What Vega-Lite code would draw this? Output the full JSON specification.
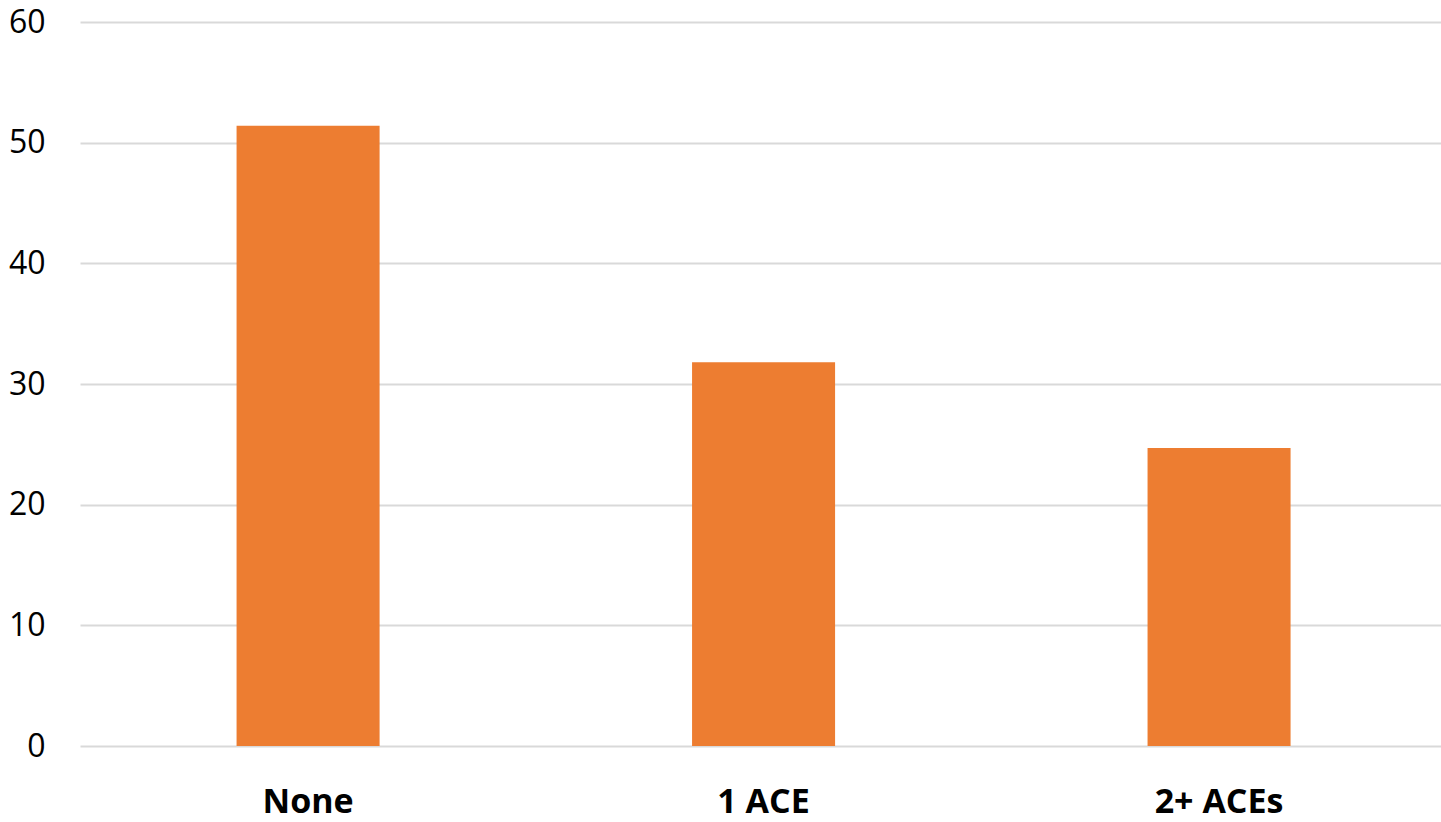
{
  "$schema": "https://vega.github.io/schema/vega-lite/v6.json",
  "autosize": {"type": "none"},
  "padding": {"left": 80, "top": 22, "right": 0, "bottom": 76},
  "width": 1361,
  "height": 724,
  "background": "white",
  "data": {"values": [
    {"group": "None", "value": 51.4},
    {"group": "1 ACE", "value": 31.8},
    {"group": "2+ ACEs", "value": 24.7}
  ]},
  "mark": {"type": "bar", "color": "#ED7D31"},
  "encoding": {
    "x": {
      "field": "group", "type": "nominal", "sort": null,
      "scale": {"paddingInner": 0.686, "paddingOuter": 0.337, "align": 0.51},
      "axis": {"title": null, "labelAngle": 0, "domain": false, "ticks": false,
        "labelFont": "Open Sans", "labelFontSize": 34, "labelFontWeight": "bold",
        "labelColor": "#000000", "labelPadding": 39}
    },
    "y": {
      "field": "value", "type": "quantitative",
      "scale": {"domain": [0, 60], "nice": false},
      "axis": {"title": null, "values": [0, 10, 20, 30, 40, 50, 60], "domain": false, "ticks": false,
        "grid": true, "gridColor": "#d9d9d9", "gridWidth": 2,
        "labelFont": "Open Sans", "labelFontSize": 32, "labelColor": "#000000", "labelPadding": 35}
    }
  },
  "config": {"view": {"stroke": null}}
}
